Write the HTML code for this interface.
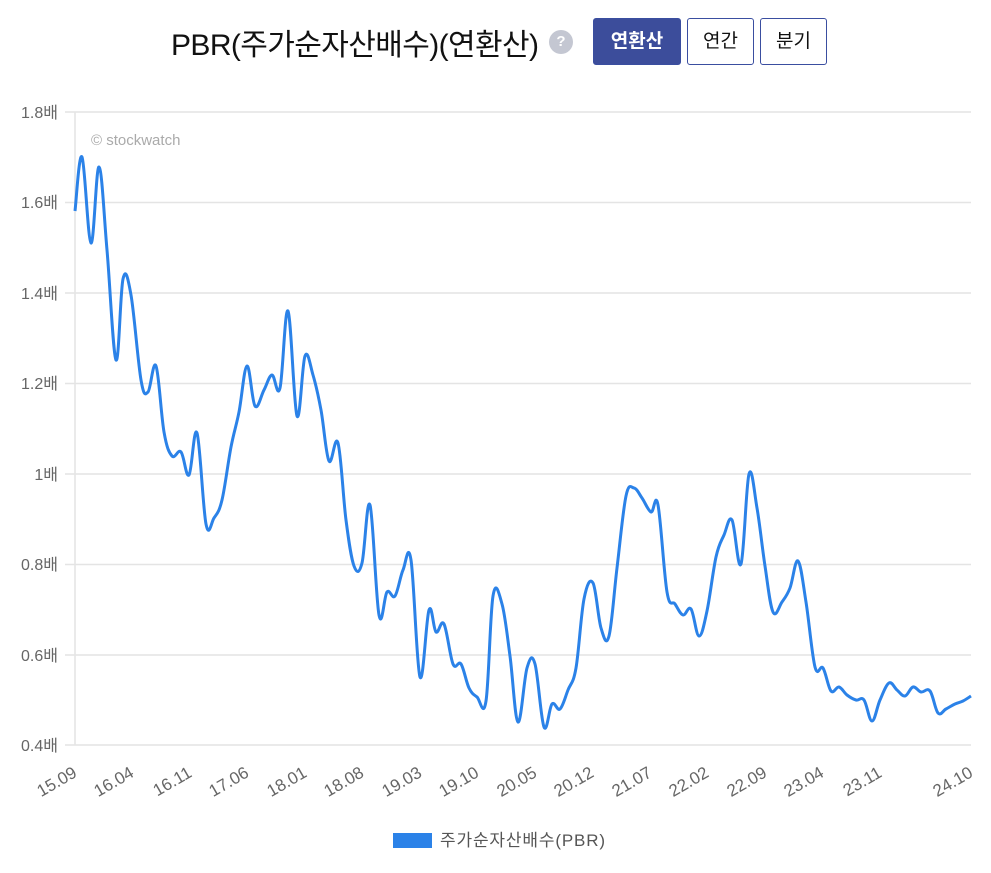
<!DOCTYPE html>
<html><head><meta charset="utf-8"><style>
body{margin:0;background:#fff;width:991px;height:873px;overflow:hidden;font-family:"Liberation Sans","Noto Sans CJK KR",sans-serif}
.t{position:absolute;top:20px;left:171px;font-size:30px;color:#111;letter-spacing:-0.6px}
.q{position:absolute;left:549px;top:30px;width:24px;height:24px;border-radius:50%;background:#c4c7d2;color:#fff;font-size:15px;font-weight:bold;text-align:center;line-height:24px}
.b{position:absolute;top:18px;height:47px;box-sizing:border-box;border:1px solid #3a4ea0;border-radius:3px;font-size:19px;line-height:45px;text-align:center;color:#111}
</style></head><body>
<div class="t">PBR(주가순자산배수)(연환산)</div>
<div class="q">?</div>
<div class="b" style="left:593px;width:88px;background:#3c4d9b;color:#fff;font-weight:bold">연환산</div>
<div class="b" style="left:687px;width:67px">연간</div>
<div class="b" style="left:760px;width:67px">분기</div>
<svg width="991" height="873" style="position:absolute;left:0;top:0" font-family="Liberation Sans, Noto Sans CJK KR, sans-serif">
<g stroke="#e4e4e4" stroke-width="1.5">
<line x1="65" x2="971" y1="112" y2="112"/><line x1="65" x2="971" y1="202.5" y2="202.5"/><line x1="65" x2="971" y1="293" y2="293"/><line x1="65" x2="971" y1="383.5" y2="383.5"/><line x1="65" x2="971" y1="474" y2="474"/><line x1="65" x2="971" y1="564.5" y2="564.5"/><line x1="65" x2="971" y1="655" y2="655"/><line x1="65" x2="971" y1="745" y2="745"/>
<line x1="75" x2="75" y1="112" y2="745"/>
</g>
<g fill="#666" font-size="16" text-anchor="end">
<text x="58" y="118">1.8배</text><text x="58" y="208">1.6배</text><text x="58" y="299">1.4배</text><text x="58" y="389">1.2배</text><text x="58" y="480">1배</text><text x="58" y="570">0.8배</text><text x="58" y="661">0.6배</text><text x="58" y="751">0.4배</text>
</g>
<text x="91" y="145" fill="#aaa" font-size="15">© stockwatch</text>
<g fill="#666" font-size="17" text-anchor="end" id="xl"></g>
<path id="ln" fill="none" stroke="#2b82e8" stroke-width="3" stroke-linejoin="round"/>
<rect x="393" y="833" width="39" height="15" fill="#2b82e8"/>
<text x="440" y="846" fill="#555" font-size="17" textLength="165">주가순자산배수(PBR)</text>
</svg>
<script>
var P=[[75,211],[82,157],[91,243],[99,167],[107,250],[116,360],[123,279],[131,295],[141,380],[148,392],[156,366],[164,432],[172,456],[181,452],[189,475],[197,433],[206,524],[214,518],[222,500],[231,447],[239,412],[247,366],[255,406],[264,390],[272,375],[280,388],[288,311],[297,416],[305,356],[313,375],[321,410],[329,461],[338,443],[346,520],[354,566],[362,563],[370,505],[379,615],[387,592],[395,596],[403,570],[411,560],[420,677],[429,610],[436,632],[444,624],[453,664],[461,664],[469,688],[477,697],[486,701],[493,596],[502,604],[510,656],[518,722],[527,668],[535,664],[544,727],[552,704],[560,709],[568,690],[576,668],[584,599],[593,583],[601,628],[609,636],[617,568],[626,496],[634,488],[642,498],[651,512],[658,505],[667,592],[675,604],[683,615],[691,609],[699,636],[707,611],[716,557],[724,535],[732,520],[741,564],[749,474],[757,508],[765,566],[773,612],[782,602],[790,588],[798,561],[806,602],[815,667],[823,668],[831,691],[839,687],[847,695],[856,700],[864,700],[872,721],[880,700],[889,683],[897,690],[905,696],[913,687],[921,692],[930,691],[938,713],[946,709],[955,704],[963,701],[971,696]];
var d="M"+P[0];
for(var i=0;i<P.length-1;i++){var p0=P[i-1]||P[i],p1=P[i],p2=P[i+1],p3=P[i+2]||p2;var t=0.18;
d+=" C"+(p1[0]+(p2[0]-p0[0])*t)+","+(p1[1]+(p2[1]-p0[1])*t)+" "+(p2[0]-(p3[0]-p1[0])*t)+","+(p2[1]-(p3[1]-p1[1])*t)+" "+p2[0]+","+p2[1];}
document.getElementById("ln").setAttribute("d",d);
var L=[["15.09",75],["16.04",132],["16.11",190],["17.06",247],["18.01",305],["18.08",362],["19.03",420],["19.10",477],["20.05",535],["20.12",592],["21.07",650],["22.02",707],["22.09",765],["23.04",822],["23.11",880],["24.10",971]];
var g=document.getElementById("xl"),s="";
L.forEach(function(l){var x=l[1]-1,y=777;s+='<text x="'+x+'" y="'+y+'" transform="rotate(-30 '+x+' '+(y-8)+')">'+l[0]+'</text>';});
g.innerHTML=s;
</script>
</body></html>
